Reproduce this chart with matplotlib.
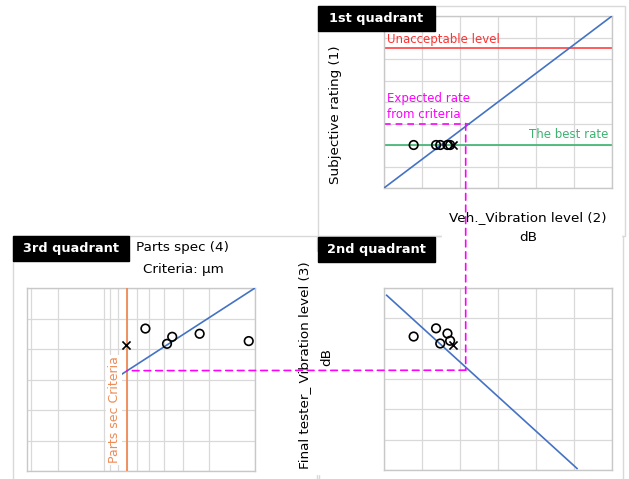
import matplotlib

matplotlib.use("Agg")
import matplotlib.pyplot as plt
from matplotlib.patches import ConnectionPatch, Rectangle
from matplotlib.ticker import LogLocator, MultipleLocator, NullFormatter

# Sample measurements: five parts (circles) plus the criteria part (cross)
veh_level = [0.78, 1.37, 1.67, 1.48, 1.74]
tester_level = [1.60, 1.33, 1.50, 1.83, 1.74]
parts_spec = [3.52, 5.29, 2.32, 3.81, 1.10]
rating = [2.0, 2.0, 2.0, 2.0, 2.0]

cross_veh = [1.82]
cross_tester = [1.87]
cross_parts = [7.06]
cross_rating = [2.0]

# Trend lines for each quadrant (end points)
trend1_veh = [0.0, 6.0]
trend1_rating = [0.0, 8.0]
trend2_veh = [0.07, 5.08]
trend2_tester = [0.24, 5.95]
trend3_parts = [7.65, 1.0]
trend3_tester = [2.84, 0.0]

# Reference levels
unacceptable = 6.5
best_rate = 2.0
criteria = 7.0
criteria_tester = 2.71
criteria_veh = 2.15
expected_rate = 3.0

W, H = 629, 479
BLUE = "#4472C4"
GRID = "#D9D9D9"
FRAME = "#D9D9D9"
MAGENTA = "#FF00FF"
ORANGE = "#EE8B55"
TITLE_SIZE = 9.7


def fx(x):
    return x / W


def fy(y):
    return 1 - y / H


def axes_at(fig, x0, y0, x1, y1):
    ax = fig.add_axes([fx(x0), fy(y1), (x1 - x0) / W, (y1 - y0) / H])
    ax.tick_params(which="both", length=0, labelbottom=False, labelleft=False)
    for sp in ax.spines.values():
        sp.set_color("#C8C8C8")
        sp.set_linewidth(1.0)
    ax.set_axisbelow(True)
    return ax


def frame(fig, x0, y0, x1, y1, fill=False):
    fig.add_artist(Rectangle((fx(x0), fy(y1)), (x1 - x0) / W, (y1 - y0) / H,
                             transform=fig.transFigure, fill=fill,
                             facecolor="white", edgecolor="white" if fill else FRAME,
                             linewidth=1.0))


def tag(fig, x0, y0, x1, y1, text):
    fig.add_artist(Rectangle((fx(x0), fy(y1)), (x1 - x0) / W, (y1 - y0) / H,
                             transform=fig.transFigure, facecolor="black",
                             edgecolor="black", zorder=5))
    fig.text(fx((x0 + x1) / 2), fy((y0 + y1) / 2), text, color="white",
             fontsize=9.3, fontweight="bold", ha="center", va="center", zorder=6)


fig = plt.figure(figsize=(W / 100, H / 100), dpi=100)
fig.patch.set_facecolor("white")

frame(fig, 318, 6, 625, 236)
frame(fig, 319, 236, 623, 482)
frame(fig, 13, 236, 317, 482)
# label backgrounds hide the frame edges they sit on
frame(fig, 442, 198, 621, 247, fill=True)
frame(fig, 296, 252, 337, 474, fill=True)

# 1st quadrant: vehicle vibration vs subjective rating
ax1 = axes_at(fig, 384, 16, 612, 188)
ax1.set_xlim(0, 6)
ax1.set_ylim(0, 8)
ax1.xaxis.set_major_locator(MultipleLocator(1))
ax1.yaxis.set_major_locator(MultipleLocator(1))
ax1.grid(True, color=GRID, linewidth=0.9)
ax1.plot(trend1_veh, trend1_rating, color=BLUE, linewidth=1.2, zorder=3)
ax1.axhline(unacceptable, color="#FF4040", linewidth=1.2)
ax1.axhline(best_rate, color="#3CB371", linewidth=1.2)
ax1.plot([0, expected_rate * 6 / 8], [expected_rate, expected_rate],
         color=MAGENTA, linestyle=(0, (4, 3)), linewidth=1.2, clip_on=False)
ax1.scatter(veh_level, rating, s=38, facecolors="none", edgecolors="black",
            linewidths=1.2, zorder=4)
ax1.scatter(cross_veh, cross_rating, s=34, marker="x", color="black",
            linewidths=1.2, zorder=4)
ax1.text(0.08, unacceptable + 0.12, "Unacceptable level", color="#FF3030",
         fontsize=8.5, va="bottom")
ax1.text(0.08, expected_rate + 0.12, "Expected rate\nfrom criteria",
         color=MAGENTA, fontsize=8.5, va="bottom", linespacing=1.25)
ax1.text(5.9, best_rate + 0.18, "The best rate", color="#3CB371",
         fontsize=8.5, va="bottom", ha="right")

# 2nd quadrant: vehicle vibration vs final tester vibration
ax2 = axes_at(fig, 384, 288, 612, 470)
ax2.set_xlim(0, 6)
ax2.set_ylim(6, 0)
ax2.xaxis.set_major_locator(MultipleLocator(1))
ax2.yaxis.set_major_locator(MultipleLocator(1))
ax2.grid(True, color=GRID, linewidth=0.9)
ax2.plot(trend2_veh, trend2_tester, color=BLUE, linewidth=1.2, zorder=3)
ax2.scatter(veh_level, tester_level, s=38, facecolors="none",
            edgecolors="black", linewidths=1.2, zorder=4)
ax2.scatter(cross_veh, cross_tester, s=34, marker="x", color="black",
            linewidths=1.2, zorder=4)

# 3rd quadrant: parts spec (log, reversed) vs final tester vibration
ax3 = axes_at(fig, 27, 288, 255, 471)
ax3.set_xscale("log")
ax3.set_xlim(32, 1)
ax3.set_ylim(6, 0)
ax3.xaxis.set_major_locator(LogLocator(base=10, subs=(1.0,)))
ax3.xaxis.set_minor_locator(LogLocator(base=10, subs=range(2, 10)))
ax3.xaxis.set_minor_formatter(NullFormatter())
ax3.yaxis.set_major_locator(MultipleLocator(1))
ax3.tick_params(which="both", length=0, labelbottom=False, labelleft=False)
ax3.grid(True, which="both", color=GRID, linewidth=0.9)
ax3.axvline(criteria, color=ORANGE, linewidth=1.3, zorder=3)
ax3.plot(trend3_parts, trend3_tester, color=BLUE, linewidth=1.2, zorder=3)
ax3.scatter(parts_spec, tester_level, s=38, facecolors="none",
            edgecolors="black", linewidths=1.2, zorder=4)
ax3.scatter(cross_parts, cross_tester, s=34, marker="x", color="black",
            linewidths=1.2, zorder=4)
ax3.text(criteria * 1.1, 4.0, "Parts sec Criteria", color=ORANGE,
         fontsize=9, rotation=90, ha="right", va="center", zorder=5,
         bbox=dict(facecolor="white", edgecolor="none", pad=1.0))

# Criteria path: parts criteria -> tester level -> vehicle level -> rating
for xyA, xyB, axA, axB in [
    ((criteria_veh, expected_rate), (criteria_veh, criteria_tester), ax1, ax2),
    ((criteria_veh, criteria_tester), (criteria, criteria_tester), ax2, ax3),
]:
    con = ConnectionPatch(xyA=xyA, xyB=xyB, coordsA="data", coordsB="data",
                          axesA=axA, axesB=axB, color=MAGENTA,
                          linestyle=(0, (4, 3)), linewidth=1.2, zorder=8)
    fig.add_artist(con)

# Axis titles
fig.text(fx(336), fy(115), "Subjective rating (1)", rotation=90,
         fontsize=TITLE_SIZE, ha="center", va="center")
fig.text(fx(528), fy(218), "Veh._Vibration level (2)", fontsize=TITLE_SIZE,
         ha="center", va="center")
fig.text(fx(528), fy(237), "dB", fontsize=TITLE_SIZE, ha="center", va="center")
fig.text(fx(305), fy(365), "Final tester_ Vibration level (3)", rotation=90,
         fontsize=TITLE_SIZE, ha="center", va="center")
fig.text(fx(327), fy(357), "dB", rotation=90, fontsize=TITLE_SIZE,
         ha="center", va="center")
fig.text(fx(183), fy(248), "Parts spec (4)", fontsize=TITLE_SIZE,
         ha="center", va="center")
fig.text(fx(183), fy(270), "Criteria: \u03bcm", fontsize=TITLE_SIZE,
         ha="center", va="center")

tag(fig, 318, 6, 435, 31, "1st quadrant")
tag(fig, 318, 237, 435, 262, "2nd quadrant")
tag(fig, 13, 236, 129, 261, "3rd quadrant")

fig.savefig("out.png", dpi=100, facecolor="white")
